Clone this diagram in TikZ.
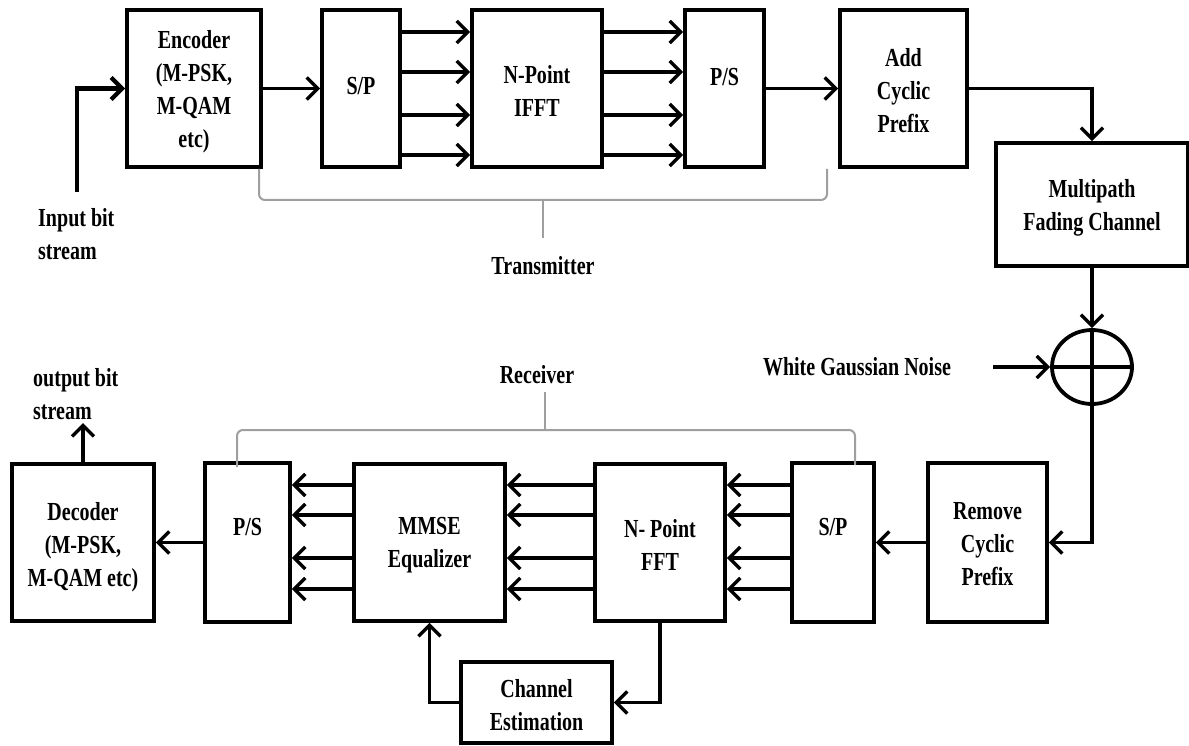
\documentclass[tikz,border=0pt]{standalone}
\usepackage{fontspec}
\setmainfont{Liberation Serif}[FakeStretch=0.77]
\usetikzlibrary{arrows.meta,shapes.geometric}
\begin{document}
\begin{tikzpicture}[x=1pt,y=-1pt,
  every node/.style={font=\bfseries\fontsize{26}{33}\selectfont, inner sep=0pt, align=center},
  blk/.style={draw, line width=3.8pt, rectangle},
  arr/.style={line width=3.4pt, -{Straight Barb[length=11pt,width=22pt]}},
  ln/.style={line width=3.4pt},
  brc/.style={draw=gray!75, line width=2pt, rounded corners=6pt},
  lbl/.style={align=left}]
\useasboundingbox (0,0) rectangle (1189,746);
% transmitter blocks
\node[blk, minimum width=134pt, minimum height=157pt] (enc) at (194,88.5) {};
\node at (194,92) {Encoder\\(M-PSK,\\M-QAM\\etc)};
\node[blk, minimum width=78pt, minimum height=157pt] (sp1) at (361,88.5) {};
\node at (361,86) {S/P};
\node[blk, minimum width=130pt, minimum height=157pt] (ifft) at (537,88.5) {};
\node at (537,91) {N-Point\\IFFT};
\node[blk, minimum width=79pt, minimum height=157pt] (ps1) at (724.5,88.5) {};
\node at (724.5,77) {P/S};
\node[blk, minimum width=127pt, minimum height=157pt] (acp) at (903.5,88.5) {};
\node at (903.5,91) {Add\\Cyclic\\Prefix};
\node[blk, minimum width=192pt, minimum height=123pt] (mp) at (1092,204.5) {};
\node at (1092,208) {Multipath\\Fading Channel};
\node[draw, ellipse, line width=3.8pt, minimum width=80pt, minimum height=74pt] (sum) at (1092,367) {};
\draw[ln] (sum.north) -- (sum.south);
\draw[ln] (sum.west) -- (sum.east);
% receiver blocks
\node[blk, minimum width=119pt, minimum height=159pt] (rcp) at (987.5,542.5) {};
\node at (987.5,544) {Remove\\Cyclic\\Prefix};
\node[blk, minimum width=82pt, minimum height=159pt] (sp2) at (833,542.5) {};
\node at (833,527) {S/P};
\node[blk, minimum width=130pt, minimum height=157pt] (fft) at (660,542.5) {};
\node at (660,545) {N- Point\\FFT};
\node[blk, minimum width=151pt, minimum height=157pt] (mmse) at (429.5,542.5) {};
\node at (429.5,545) {MMSE\\Equalizer};
\node[blk, minimum width=85pt, minimum height=159pt] (ps2) at (247.5,542.5) {};
\node at (247.5,527) {P/S};
\node[blk, minimum width=142pt, minimum height=157pt] (dec) at (83,542.5) {};
\node at (83,547) {Decoder\\(M-PSK,\\M-QAM etc)};
\node[blk, minimum width=151pt, minimum height=81pt] (ce) at (536.5,702.5) {};
\node at (536.5,705) {Channel\\Estimation};
% labels
\node[lbl, anchor=west] (inlbl) at (38,234) {Input bit\\stream};
\node[lbl, anchor=west] (outlbl) at (33,394) {output bit\\stream};
\node (tx) at (543,266) {Transmitter};
\node (rx) at (537,375) {Receiver};
\node (wgnl) at (857,367) {White Gaussian Noise};
% coordinates
\coordinate (in) at (77,192);
\coordinate (out) at (83,423);
\coordinate (wgn) at (993,367);
\foreach \y [count=\i] in {32,72,115,155} \coordinate (ta\i) at (0,\y);
\foreach \y [count=\i] in {485,515,558,589} \coordinate (rb\i) at (0,\y);
% transmitter connectors
\draw[arr, line width=4.2pt] (in) |- (enc.west);
\draw[arr] (enc.east) -- (sp1.west);
\foreach \i in {1,...,4} {
  \draw[arr] (sp1.east |- ta\i) -- (ifft.west |- ta\i);
  \draw[arr] (ifft.east |- ta\i) -- (ps1.west |- ta\i);
}
\draw[arr] (ps1.east) -- (acp.west);
\draw[arr] (acp.east) -| (mp.north);
\draw[arr] (mp.south) -- (sum.north);
\draw[arr] (wgn) -- (sum.west);
\draw[arr] (sum.south) |- (rcp.east);
% receiver connectors
\draw[arr] (rcp.west) -- (sp2.east);
\foreach \i in {1,...,4} {
  \draw[arr] (sp2.west |- rb\i) -- (fft.east |- rb\i);
  \draw[arr] (fft.west |- rb\i) -- (mmse.east |- rb\i);
  \draw[arr] (mmse.west |- rb\i) -- (ps2.east |- rb\i);
}
\draw[arr] (ps2.west) -- (dec.east);
\draw[arr] (dec.north) -- (out);
\draw[arr] (fft.south) |- (ce.east);
\draw[arr] (ce.west) -| (mmse.south);
% braces
\coordinate (tb1) at (259,169);
\coordinate (tb2) at (827,169);
\coordinate (tbm) at (543,200);
\draw[brc] (tb1) -- (259,200) -- (tbm) -- (827,200) -- (tb2);
\draw[draw=gray!75, line width=2pt] (tbm) -- (543,238);
\coordinate (rb1) at (237,467);
\coordinate (rb2) at (855,465);
\coordinate (rbm) at (545,430);
\draw[brc] (rb1) -- (237,430) -- (rbm) -- (855,430) -- (rb2);
\draw[draw=gray!75, line width=2pt] (rbm) -- (545,392);
\end{tikzpicture}
\end{document}
